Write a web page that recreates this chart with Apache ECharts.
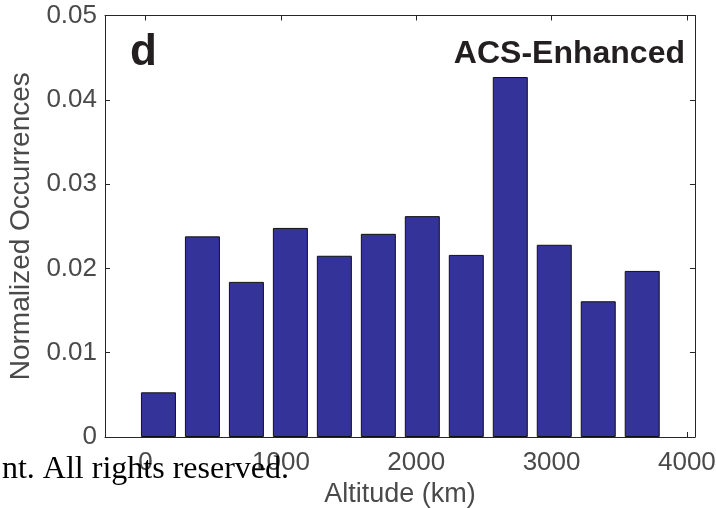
<!DOCTYPE html>
<html>
<head>
<meta charset="utf-8">
<script src="https://cdn.jsdelivr.net/npm/echarts@6/dist/echarts.min.js"></script>
<style>
  html, body { margin: 0; padding: 0; background: #fff; }
  #chart { width: 716px; height: 508px; }
</style>
</head>
<body>
<div id="chart"></div>
<script>
// Bin centres (km) and normalized occurrences
const binCenters = [95, 420, 745, 1070, 1395, 1720, 2045, 2370, 2695, 3020, 3345, 3670];
const occurrences = [0.0053, 0.0238, 0.0184, 0.0248, 0.0215, 0.0241, 0.0262, 0.0216, 0.0427, 0.0228, 0.0161, 0.0197];
const xTicks = [0, 1000, 2000, 3000, 4000];
const yTicks = [0, 0.01, 0.02, 0.03, 0.04, 0.05];
const panelLabel = 'd';
const panelTitle = 'ACS-Enhanced';
const xName = 'Altitude (km)';
const yName = 'Normalized Occurrences';
const watermark = 'nt. All rights reserved.';

const chart = echarts.init(document.getElementById('chart'), null, { renderer: 'canvas' });
const lineColor = '#262626';
const labelColor = '#4a4a4a';
const fontFamily = '"Liberation Sans", Arial, Helvetica, sans-serif';

const data = binCenters.map((x, i) => [x, occurrences[i]]);

const option = {
  animation: false,
  backgroundColor: '#ffffff',
  grid: { left: 105, right: 21, top: 15.5, bottom: 71, containLabel: false, outerBoundsMode: 'none' },
  xAxis: [
    {
      type: 'value', min: -300, max: 4060, position: 'bottom',
      name: xName, nameLocation: 'middle', nameGap: 29,
      nameTextStyle: { color: labelColor, fontSize: 27, fontFamily: fontFamily },
      axisLine: { show: true, onZero: false, lineStyle: { color: lineColor, width: 1 } },
      axisTick: { show: true, inside: true, length: 5, customValues: xTicks, lineStyle: { color: lineColor } },
      axisLabel: { show: true, customValues: xTicks, margin: 13, color: labelColor, fontSize: 26, fontFamily: fontFamily,
        formatter: v => String(v) },
      splitLine: { show: false }
    },
    {
      type: 'value', min: -300, max: 4060, position: 'top',
      axisLine: { show: true, onZero: false, lineStyle: { color: lineColor, width: 1 } },
      axisTick: { show: true, inside: true, length: 5, customValues: xTicks, lineStyle: { color: lineColor } },
      axisLabel: { show: false },
      splitLine: { show: false }
    }
  ],
  yAxis: [
    {
      type: 'value', min: 0, max: 0.05, interval: 0.01, position: 'left',
      name: yName, nameLocation: 'middle', nameGap: 66, nameRotate: 90,
      nameTextStyle: { color: labelColor, fontSize: 28, fontFamily: fontFamily },
      axisLine: { show: true, onZero: false, lineStyle: { color: lineColor, width: 1 } },
      axisTick: { show: true, inside: true, length: 5, lineStyle: { color: lineColor } },
      axisLabel: { show: true, margin: 8, color: labelColor, fontSize: 26, fontFamily: fontFamily,
        padding: [6, 0, 0, 0],
        formatter: v => yTicks.includes(+v.toFixed(2)) ? String(+v.toFixed(2)) : '' },
      splitLine: { show: false }
    },
    {
      type: 'value', min: 0, max: 0.05, interval: 0.01, position: 'right',
      axisLine: { show: true, onZero: false, lineStyle: { color: lineColor, width: 1 } },
      axisTick: { show: true, inside: true, length: 5, lineStyle: { color: lineColor } },
      axisLabel: { show: false },
      splitLine: { show: false }
    }
  ],
  series: [
    {
      type: 'bar', xAxisIndex: 0, yAxisIndex: 0,
      data: data, barWidth: 35,
      itemStyle: { color: '#333399', borderColor: '#111111', borderWidth: 1 },
      z: 1
    }
  ],
  graphic: [
    { type: 'text', left: 130, top: 31, z: 100,
      style: { text: panelLabel, font: 'bold 44px ' + fontFamily, fill: '#231f20' } },
    { type: 'text', x: 685, y: 54.5, z: 100,
      style: { text: panelTitle, font: 'bold 32px ' + fontFamily, fill: '#231f20', textAlign: 'right', textVerticalAlign: 'middle' } },
    { type: 'text', x: 289, y: 470, z: 200,
      style: { text: watermark, font: '32px "Liberation Serif", "Times New Roman", serif', fill: '#000000', textAlign: 'right', textVerticalAlign: 'middle' } }
  ]
};
chart.setOption(option);
</script>
</body>
</html>
